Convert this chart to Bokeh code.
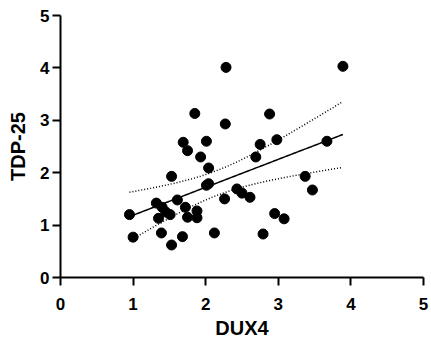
import numpy as np
from bokeh.plotting import figure
from bokeh.models import Range1d, FixedTicker
from bokeh.embed import file_html
from bokeh.resources import INLINE

dux4 = [0.95, 1.00, 1.32, 1.39, 1.53, 1.68, 1.53, 1.61, 1.40, 1.35, 1.45, 1.51,
        1.72, 1.75, 1.88, 1.88, 2.12, 2.26, 2.01, 2.04, 2.04, 1.93, 1.75, 1.69,
        2.01, 1.85, 2.27, 2.28, 2.88, 2.75, 2.98, 2.69, 2.43, 2.50, 2.61, 2.95,
        3.08, 2.79, 3.37, 3.47, 3.67, 3.89]
tdp25 = [1.20, 0.77, 1.42, 0.85, 0.62, 0.78, 1.93, 1.48, 1.34, 1.13, 1.25, 1.20,
         1.34, 1.15, 1.27, 1.14, 0.85, 1.50, 1.76, 1.79, 2.09, 2.30, 2.42, 2.58,
         2.60, 3.13, 2.93, 4.01, 3.12, 2.54, 2.63, 2.30, 1.69, 1.61, 1.53, 1.22,
         1.12, 0.83, 1.93, 1.67, 2.60, 4.03]
ticks = [0, 1, 2, 3, 4, 5]

x = np.array(dux4)
y = np.array(tdp25)
n = len(x)
slope, intercept = np.polyfit(x, y, 1)
xs = np.linspace(x.min(), x.max(), 100)
ys = intercept + slope * xs
resid = y - (intercept + slope * x)
s = np.sqrt(np.sum(resid ** 2) / (n - 2))
sxx = np.sum((x - x.mean()) ** 2)
tcrit = 2.021
half = tcrit * s * np.sqrt(1.0 / n + (xs - x.mean()) ** 2 / sxx)

p = figure(width=431, height=342, output_backend="svg", toolbar_location=None,
           x_range=Range1d(0, 5), y_range=Range1d(0, 5),
           min_border_left=60, min_border_right=8, min_border_top=15, min_border_bottom=65)
p.outline_line_color = None
p.xgrid.visible = False
p.ygrid.visible = False
p.background_fill_color = "white"

p.line(xs, ys, line_color="black", line_width=1.5)
p.line(xs, ys + half, line_color="black", line_width=1.5, line_dash="1 2")
p.line(xs, ys - half, line_color="black", line_width=1.5, line_dash="1 2")
p.scatter(x, y, size=10, fill_color="black", line_color="black")

for ax in (p.xaxis[0], p.yaxis[0]):
    ax.ticker = FixedTicker(ticks=ticks)
    ax.minor_tick_line_color = None
    ax.axis_line_width = 2
    ax.major_tick_line_width = 2
    ax.major_tick_in = 0
    ax.major_label_text_font = "Liberation Sans"
    ax.major_label_text_font_style = "bold"
    ax.major_label_text_font_size = "17px"
    ax.major_label_text_color = "black"
    ax.axis_label_text_font = "Liberation Sans"
    ax.axis_label_text_font_style = "bold"
    ax.axis_label_text_font_size = "20px"
    ax.axis_label_text_color = "black"
    ax.axis_line_color = "black"
    ax.major_tick_line_color = "black"

p.xaxis.axis_label = "DUX4"
p.yaxis.axis_label = "TDP-25"
p.xaxis.major_tick_out = 8
p.xaxis.major_label_standoff = 12
p.xaxis.axis_label_standoff = 4
p.yaxis.major_tick_out = 8
p.yaxis.major_label_standoff = 3
p.yaxis.axis_label_standoff = 8

open("out.html", "w").write(file_html(p, INLINE))
